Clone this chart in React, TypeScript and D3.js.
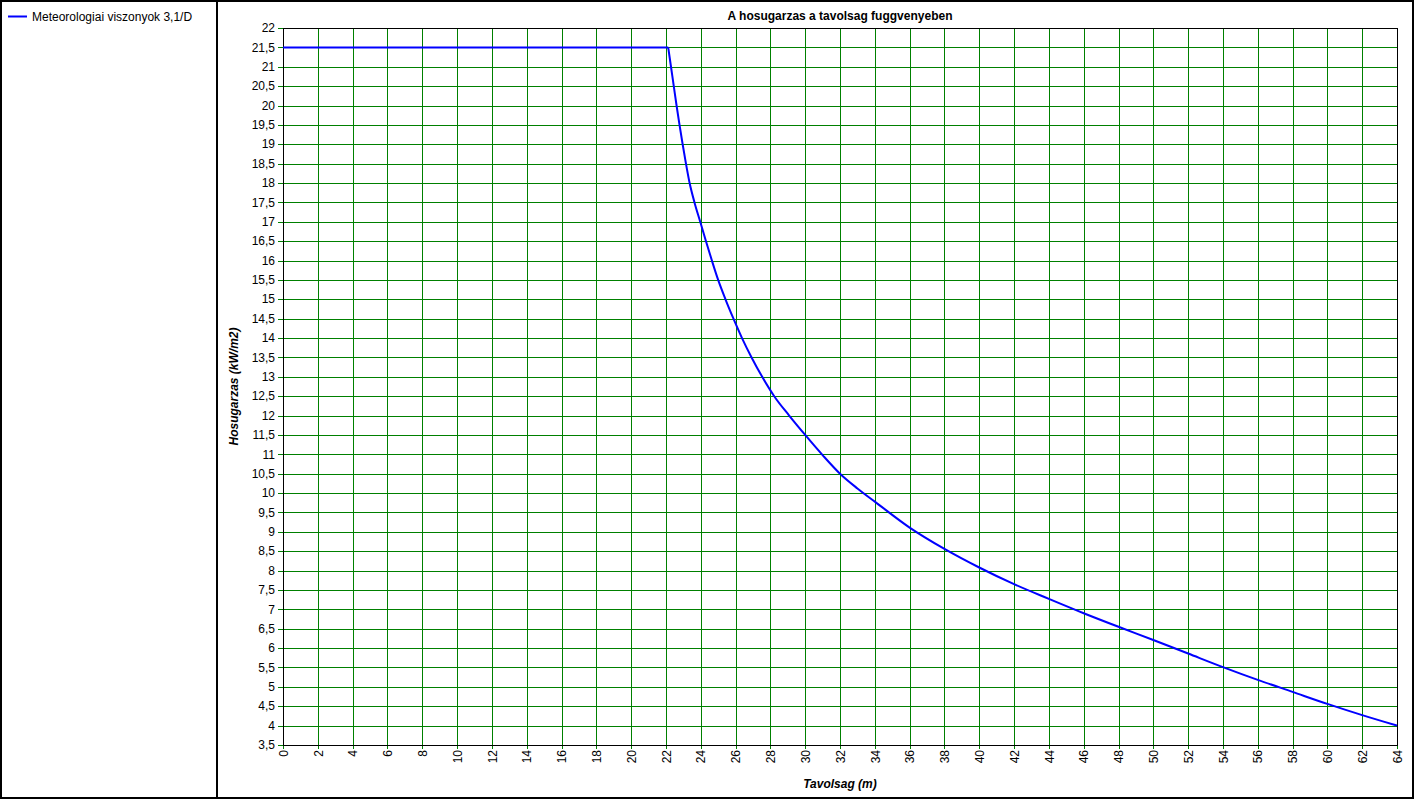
import React from "react";
import * as d3 from "d3";

const distances = [0, 22.13, 22.29, 22.45, 22.61, 22.78, 22.96, 23.15, 23.36, 23.64, 23.97, 24.3, 24.64, 25.0, 25.42, 25.88, 26.37, 26.92, 27.53, 28.22, 29.08, 30.0, 31, 32, 33, 34, 36, 38, 40, 42, 44, 46, 48, 50, 52, 54, 56, 58, 60, 62, 64];
const heatFlux = [21.5, 21.5, 21, 20.5, 20, 19.5, 19, 18.5, 18, 17.5, 17, 16.5, 16, 15.5, 15, 14.5, 14, 13.5, 13, 12.5, 12, 11.5, 10.98, 10.5, 10.12, 9.78, 9.11, 8.56, 8.08, 7.65, 7.27, 6.9, 6.55, 6.21, 5.86, 5.51, 5.18, 4.87, 4.56, 4.27, 4.0];

const xTicks = d3.range(0, 65, 2);
const yTicks = d3.range(3.5, 22.01, 0.5);

const seriesName = "Meteorologiai viszonyok 3,1/D";
const chartTitle = "A hosugarzas a tavolsag fuggvenyeben";
const xTitle = "Tavolsag (m)";
const yTitle = "Hosugarzas (kW/m2)";

const W = 1414;
const H = 799;
const FONT = "'Liberation Sans', Arial, sans-serif";
const GRID = "#008000";

export default function App() {
  const x = d3.scaleLinear().domain([0, 64]).range([283, 1397]);
  const y = d3.scaleLinear().domain([3.5, 22]).range([745, 28]);
  const fmt = (v: number) => String(v).replace(".", ",");
  const pts: [number, number][] = distances.map((d, i) => [d, heatFlux[i]]);
  const flat = pts.slice(0, 2);
  const decay = pts.slice(1);
  const lineLinear = d3
    .line<[number, number]>()
    .x((d) => x(d[0]))
    .y((d) => y(d[1]));
  const lineSmooth = d3
    .line<[number, number]>()
    .x((d) => x(d[0]))
    .y((d) => y(d[1]))
    .curve(d3.curveMonotoneX);
  const r = (v: number) => Math.round(v) + 0.5;

  return (
    <svg
      width={W}
      height={H}
      style={{ position: "absolute", left: 0, top: 0, display: "block", background: "#fff" }}
      fontFamily={FONT}
    >
      <rect x={1} y={1} width={W - 2} height={H - 2} fill="#fff" stroke="#000" strokeWidth={2} />
      <line x1={217} x2={217} y1={0} y2={H} stroke="#000" strokeWidth={2} />

      {/* legend */}
      <line x1={8} x2={27} y1={16.5} y2={16.5} stroke="#0000ff" strokeWidth={2} />
      <text x={32} y={21} fontSize={12} fill="#000">{seriesName}</text>

      {/* title */}
      <text x={840} y={20} fontSize={12} fontWeight="bold" textAnchor="middle" fill="#000">{chartTitle}</text>

      {/* grid */}
      <g shapeRendering="crispEdges">
        {xTicks.map((t) => (
          <line key={"gx" + t} x1={r(x(t))} x2={r(x(t))} y1={y(22)} y2={y(3.5) + 4} stroke={GRID} strokeWidth={1} />
        ))}
        {yTicks.map((t) => (
          <line key={"gy" + t} x1={x(0) - 5} x2={x(64)} y1={r(y(t))} y2={r(y(t))} stroke={GRID} strokeWidth={1} />
        ))}
        <rect x={r(x(0))} y={r(y(22))} width={Math.round(x(64)) - Math.round(x(0))} height={Math.round(y(3.5)) - Math.round(y(22))} fill="none" stroke="#000" strokeWidth={1} />
      </g>

      {/* y labels */}
      {yTicks.map((t) => (
        <text key={"ly" + t} x={275} y={y(t)} dy="0.35em" fontSize={12} textAnchor="end" fill="#000">
          {fmt(t)}
        </text>
      ))}

      {/* x labels */}
      {xTicks.map((t) => (
        <text
          key={"lx" + t}
          transform={`translate(${x(t) + 0.5},${750}) rotate(-90)`}
          dy="0.35em"
          fontSize={12}
          textAnchor="end"
          fill="#000"
        >
          {t}
        </text>
      ))}

      {/* axis titles */}
      <text x={840} y={788} fontSize={12} fontWeight="bold" fontStyle="italic" textAnchor="middle" fill="#000">{xTitle}</text>
      <text
        transform={`translate(238,${(y(22) + y(3.5)) / 2}) rotate(-90)`}
        fontSize={12}
        fontWeight="bold"
        fontStyle="italic"
        textAnchor="middle"
        fill="#000"
      >
        {yTitle}
      </text>

      {/* series */}
      <path d={lineLinear(flat) || ""} fill="none" stroke="#0000ff" strokeWidth={2} />
      <path d={lineSmooth(decay) || ""} fill="none" stroke="#0000ff" strokeWidth={2} strokeLinejoin="round" />
    </svg>
  );
}
